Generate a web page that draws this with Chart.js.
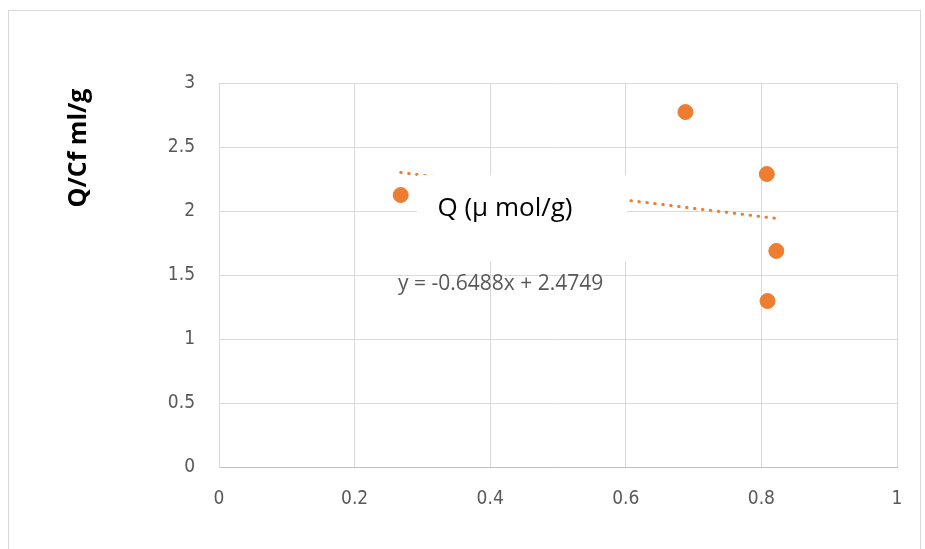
<!DOCTYPE html>
<html>
<head>
<meta charset="utf-8">
<script src="https://cdn.jsdelivr.net/npm/chart.js@4"></script>
<style>
  html, body { margin: 0; padding: 0; background: #fff; overflow: hidden; }
  #wrap { position: relative; width: 925px; height: 549px; }
  #frame { position: absolute; left: 8px; top: 10px; width: 913px; height: 600px; border: 1px solid #d9d9d9; box-sizing: border-box; }
  #chart { position: absolute; left: 0; top: 0; }
</style>
</head>
<body>
<div id="wrap">
  <div id="frame"></div>
  <canvas id="chart" width="925" height="549"></canvas>
</div>
<script>
// -----------------------------------------
// DATA
// -----------------------------------------
const pointX = [0.268, 0.688, 0.808, 0.822, 0.809];
const pointY = [2.125, 2.773, 2.289, 1.688, 1.297];

// linear trendline end points
const trendX = [0.268, 0.822];
const trendY = [2.301, 1.942];

const xTicks = [0, 0.2, 0.4, 0.6, 0.8, 1];
const yTicks = [0, 0.5, 1, 1.5, 2, 2.5, 3];

const seriesName = 'Q (\u03bc mol/g)';
const yTitle     = 'Q/Cf ml/g';
const equation   = 'y = -0.6488x + 2.4749';

const ORANGE = '#ED7D31';
const GRID   = '#d9d9d9';
const TEXT   = '#595959';
const FONT   = "'DejaVu Sans Condensed', 'Liberation Sans Narrow', 'Open Sans', sans-serif";

// -----------------------------------------
// Overlay: label box, equation, axis title
// -----------------------------------------
const overlay = {
  id: 'overlay',
  afterDatasetsDraw(chart) {
    const ctx = chart.ctx;
    ctx.save();

    // white label box over the trendline
    ctx.fillStyle = '#fff';
    ctx.fillRect(417, 175, 210, 87);
    ctx.fillStyle = '#000';
    ctx.font = "26px 'Open Sans', sans-serif";
    ctx.textAlign = 'center';
    ctx.textBaseline = 'alphabetic';
    ctx.fillText(seriesName, 505, 216);

    // trendline equation
    ctx.fillStyle = TEXT;
    ctx.font = "21px 'Open Sans', sans-serif";
    ctx.textAlign = 'left';
    ctx.fillText(equation, 398, 290);

    // y axis title
    ctx.translate(86, 148);
    ctx.rotate(-Math.PI / 2);
    ctx.fillStyle = '#000';
    ctx.font = "bold 25px 'Open Sans', sans-serif";
    ctx.textAlign = 'center';
    ctx.fillText(yTitle, 0, 0);

    ctx.restore();
  }
};

new Chart(document.getElementById('chart'), {
  type: 'scatter',
  data: {
    datasets: [
      {
        label: 'trend',
        type: 'line',
        data: trendX.map((x, i) => ({ x, y: trendY[i] })),
        borderColor: ORANGE,
        borderWidth: 3,
        borderDash: [0.5, 7.5],
        borderCapStyle: 'round',
        pointRadius: 0,
        fill: false,
        order: 2
      },
      {
        label: seriesName,
        data: pointX.map((x, i) => ({ x, y: pointY[i] })),
        backgroundColor: ORANGE,
        borderColor: ORANGE,
        pointRadius: 7.5,
        pointHoverRadius: 7.5,
        order: 1
      }
    ]
  },
  options: {
    responsive: false,
    animation: false,
    events: [],
    layout: { padding: { left: 0, top: 83, right: 28, bottom: 0 } },
    plugins: {
      legend: { display: false },
      tooltip: { enabled: false }
    },
    scales: {
      x: {
        type: 'linear',
        min: 0, max: 1,
        afterBuildTicks: s => { s.ticks = xTicks.map(v => ({ value: v })); },
        afterFit: s => { s.height = 82; },
        grid: { color: GRID, drawTicks: false },
        border: { color: '#bfbfbf', width: 1 },
        ticks: { color: TEXT, font: { family: FONT, size: 19 }, padding: 21, maxRotation: 0, callback: v => String(v) }
      },
      y: {
        type: 'linear',
        min: 0, max: 3,
        afterBuildTicks: s => { s.ticks = yTicks.map(v => ({ value: v })); },
        afterFit: s => { s.width = 219; },
        grid: { color: GRID, drawTicks: false },
        border: { color: GRID, width: 1 },
        ticks: { color: TEXT, font: { family: FONT, size: 19 }, padding: 24, callback: v => String(v) }
      }
    }
  },
  plugins: [overlay]
});
</script>
</body>
</html>
